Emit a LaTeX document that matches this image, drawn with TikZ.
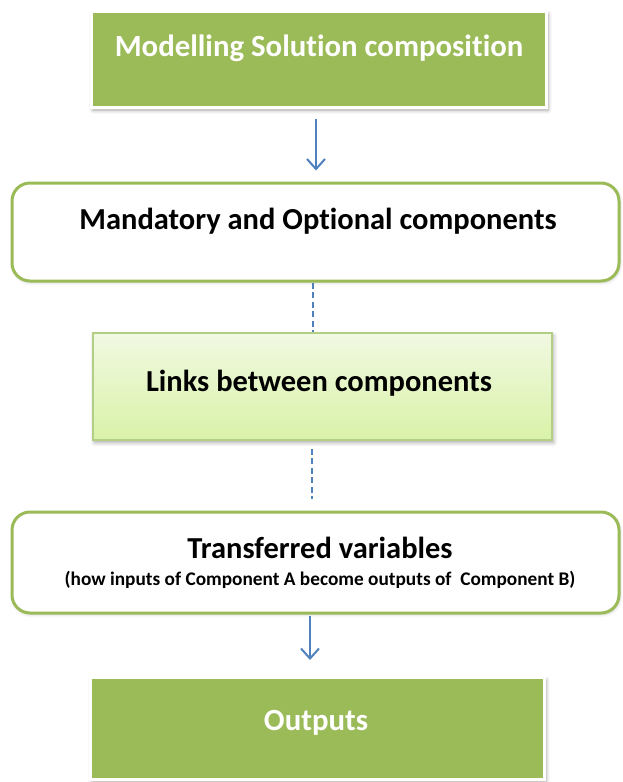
\documentclass[tikz,border=0pt]{standalone}
\usepackage{fontspec}
\setmainfont{Carlito}[Ligatures=NoCommon]
\usetikzlibrary{shadows.blur,arrows.meta}
\definecolor{olivegreen}{HTML}{9BBB59}
\definecolor{lighttop}{HTML}{F1F9E2}
\definecolor{lightbot}{HTML}{D9F2A8}
\definecolor{lightedge}{HTML}{B3CF86}
\definecolor{flowblue}{HTML}{4F81BD}
\begin{document}
\begin{tikzpicture}[x=1pt,y=-1pt,
  boxshadow/.style={blur shadow={shadow xshift=1.5pt,shadow yshift=-2.5pt,shadow blur steps=6,shadow opacity=35,shadow blur radius=4pt}},
  greenbox/.style={rectangle,fill=olivegreen,draw=white,line width=3pt,boxshadow},
  roundbox/.style={rectangle,rounded corners=18pt,fill=white,draw=olivegreen,line width=3pt,blur shadow={shadow xshift=1pt,shadow yshift=-1.5pt,shadow blur steps=5,shadow opacity=20,shadow blur radius=3pt}},
  lightbox/.style={rectangle,top color=lighttop,bottom color=lightbot,draw=lightedge,line width=1.2pt,boxshadow},
  whitetext/.style={text=white,font=\bfseries\fontsize{30.8}{36}\selectfont},
  blacktext/.style={text=black,font=\bfseries\fontsize{30.5}{36}\selectfont},
  smalltext/.style={text=black,font=\bfseries\fontsize{19.3}{23}\selectfont},
  flowarrow/.style={draw=flowblue,line width=2pt,-{Straight Barb[length=10pt,width=18pt,line width=2pt]}},
  flowdash/.style={draw=flowblue,line width=2.6pt,dash pattern=on 6pt off 3.5pt}
]
\useasboundingbox (0,0) rectangle (622,782);

\node[greenbox,minimum width=455pt,minimum height=96pt] (b1) at (319,59.5) {};
\node[roundbox,minimum width=607pt,minimum height=98pt] (b2) at (315.5,232) {};
\node[lightbox,minimum width=459pt,minimum height=107pt] (b3) at (322.5,386.5) {};
\node[roundbox,minimum width=607pt,minimum height=101pt] (b4) at (315.5,562.5) {};
\node[greenbox,minimum width=454pt,minimum height=102pt] (b5) at (317.5,728.5) {};

\node[whitetext] (t1) at (319,48) {Modelling Solution composition};
\node[blacktext] (t2) at (318,221) {Mandatory and Optional components};
\node[blacktext] (t3) at (319,383) {Links between components};
\node[blacktext] (t4) at (320,548) {Transferred variables};
\node[smalltext] (t4b) at (320,580) {(how inputs of Component A become outputs of\ \ Component B)};
\node[whitetext] (t5) at (316,723) {Outputs};

\draw[flowarrow,shorten <=10pt,shorten >=11pt] ([xshift=-3pt]b1.south) -- ([xshift=0.5pt]b2.north);
\draw[flowdash] ([xshift=-2.5pt]b2.south) -- ([xshift=-9.5pt]b3.north);
\draw[flowdash,shorten <=8pt,shorten >=12pt] ([xshift=-10.5pt]b3.south) -- ([xshift=-3.5pt]b4.north);
\draw[flowarrow,shorten <=1pt,shorten >=16pt] ([xshift=-5.5pt]b4.south) -- ([xshift=-7.5pt]b5.north);
\end{tikzpicture}
\end{document}
